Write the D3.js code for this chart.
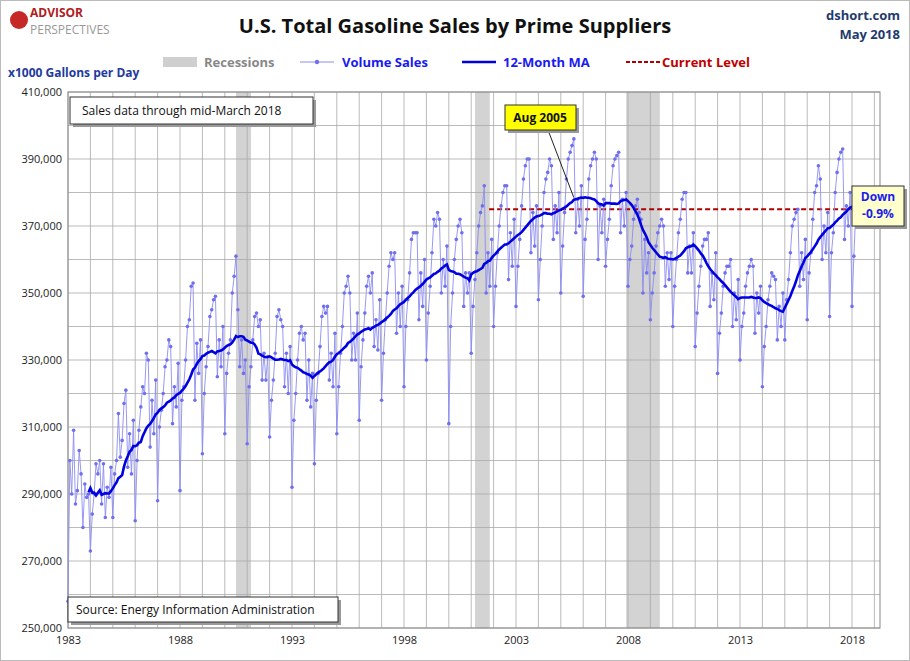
<!DOCTYPE html>
<html><head><meta charset="utf-8">
<script src="https://cdn.jsdelivr.net/npm/d3@7"></script>
<style>body{margin:0;background:#fff;font-family:"Open Sans",Arial,sans-serif}</style>
</head><body><svg id="c" width="910" height="661"></svg>
<script>
const startYear = 1983;
// monthly volume sales, thousand gallons per day (x1000), Jan 1983 .. Mar 2018
const volumeSales = [
258,300,290,309,287,291,303,296,280,293,289,290,
273,284,290,299,296,300,287,299,283,292,289,298,
283,296,300,314,301,306,317,321,298,308,296,312,
282,300,309,316,322,320,332,330,304,318,308,324,
288,310,315,320,328,330,336,334,311,322,316,329,
291,318,322,330,340,342,352,353,318,335,326,336,
302,320,328,334,343,345,348,349,325,336,328,340,
308,326,332,336,350,355,361,345,328,336,326,330,
305,322,328,336,343,344,340,342,324,332,324,331,
307,318,324,332,343,345,342,340,322,332,320,334,
292,312,320,330,338,340,336,338,318,330,316,326,
299,318,326,334,343,346,344,346,324,332,322,338,
308,322,332,340,350,352,355,350,330,338,330,344,
312,328,336,344,352,355,350,356,334,342,333,348,
318,332,342,350,358,362,360,362,338,350,340,352,
322,340,348,356,366,368,368,368,342,356,346,360,
330,344,352,362,372,370,374,372,350,360,352,364,
311,340,350,360,366,370,372,368,346,356,350,356,
332,346,354,362,370,374,376,382,350,362,352,366,
340,352,362,370,376,380,382,382,354,368,358,372,
346,358,366,376,384,388,390,390,362,374,364,376,
348,360,370,380,384,386,390,388,366,376,368,380,
350,364,374,384,390,392,394,396,368,378,370,382,
349,366,372,384,388,390,392,390,360,376,368,378,
358,366,372,382,388,390,391,392,368,378,370,380,
352,360,364,372,376,378,374,372,350,366,356,362,
342,350,356,364,368,370,372,370,352,362,354,362,
340,352,360,368,372,378,380,380,356,364,356,368,
334,344,352,358,364,366,366,368,346,356,348,362,
326,338,344,352,356,358,358,360,340,350,342,354,
330,340,344,352,356,358,360,358,338,350,344,352,
322,334,340,348,352,356,355,354,336,346,340,350,
336,348,354,362,370,372,374,375,352,362,354,366,
342,356,362,372,380,382,388,384,360,370,362,374,
343,362,368,380,386,390,392,393,366,376,370,380,
346,361,374];
const recessions = [[1990.5,1991.17],[2001.17,2001.83],[2007.92,2009.42]];
const yTicks = [250,270,290,310,330,350,370,390,410];
const xTicks = [1983,1988,1993,1998,2003,2008,2013,2018];
const currentLevel = 375;
const currentStart = 2001.8;

const svg = d3.select("#c");
const L=68,R=880,T=92,B=628;
const x = d3.scaleLinear().domain([1983,2019.25]).range([L,R]);
const y = d3.scaleLinear().domain([250,410]).range([B,T]);
const data = volumeSales.map((v,i)=>({t:startYear+i/12,v}));
const ma = [];
for(let i=11;i<data.length;i++){ma.push({t:data[i].t,v:d3.mean(volumeSales.slice(i-11,i+1))});}

svg.append("rect").attr("x",0.5).attr("y",0.5).attr("width",909).attr("height",660).attr("fill","#fff").attr("stroke","#bbb");
svg.append("rect").attr("x",L).attr("y",T).attr("width",R-L).attr("height",B-T).attr("fill","#fff");
svg.selectAll(".rec").data(recessions).join("rect").attr("x",d=>x(d[0])).attr("width",d=>x(d[1])-x(d[0]))
 .attr("y",T).attr("height",B-T).attr("fill","#d3d3d3");
for(let yr=1983;yr<=2019;yr++) svg.append("line").attr("x1",x(yr)).attr("x2",x(yr)).attr("y1",T).attr("y2",B).attr("stroke","#aaa").attr("stroke-width",0.8);
d3.range(250,411,10).forEach(v=>svg.append("line").attr("x1",L).attr("x2",R).attr("y1",y(v)).attr("y2",y(v)).attr("stroke","#aaa").attr("stroke-width",0.8));
svg.append("rect").attr("x",L).attr("y",T).attr("width",R-L).attr("height",B-T).attr("fill","none").attr("stroke","#888");

const yAx = svg.append("g").attr("transform",`translate(${L},0)`).call(d3.axisLeft(y).tickValues(yTicks).tickFormat(d=>d3.format(",")(d*1000)).tickSize(0).tickPadding(6));
const xAx = svg.append("g").attr("transform",`translate(0,${B})`).call(d3.axisBottom(x).tickValues(xTicks).tickFormat(d3.format("d")).tickSize(0).tickPadding(8));
[yAx,xAx].forEach(a=>{a.select(".domain").remove();a.selectAll("text").attr("font-size",11).attr("fill","#222").attr("font-family","Open Sans, Arial");});

svg.append("line").attr("x1",x(currentStart)).attr("x2",x(2018.2)).attr("y1",y(currentLevel)).attr("y2",y(currentLevel))
 .attr("stroke","#b00000").attr("stroke-width",1.8).attr("stroke-dasharray","5,3");

const line = d3.line().x(d=>x(d.t)).y(d=>y(d.v));
svg.append("path").datum(data).attr("d",line).attr("fill","none").attr("stroke","#8c8cf2").attr("stroke-width",0.9);
svg.selectAll(".pt").data(data).join("circle").attr("cx",d=>x(d.t)).attr("cy",d=>y(d.v)).attr("r",1.8).attr("fill","#7070ee");
svg.append("path").datum(ma).attr("d",line).attr("fill","none").attr("stroke","#0000e0").attr("stroke-width",2.6);

svg.append("text").attr("x",455).attr("y",33).attr("text-anchor","middle").attr("font-size",20).attr("font-weight","bold").attr("fill","#111").text("U.S. Total Gasoline Sales by Prime Suppliers");
svg.append("text").attr("x",900).attr("y",20).attr("text-anchor","end").attr("font-size",13).attr("font-weight","bold").attr("fill","#1f3a6e").text("dshort.com");
svg.append("text").attr("x",900).attr("y",39).attr("text-anchor","end").attr("font-size",13).attr("font-weight","bold").attr("fill","#1f3a6e").text("May 2018");
svg.append("text").attr("x",30).attr("y",17).attr("font-size",12).attr("font-weight","bold").attr("fill","#b02020").text("ADVISOR");
svg.append("text").attr("x",30).attr("y",34).attr("font-size",12).attr("fill","#999").text("PERSPECTIVES");
svg.append("circle").attr("cx",19).attr("cy",20).attr("r",9).attr("fill","#c62828");
svg.append("text").attr("x",8).attr("y",77).attr("font-size",12).attr("font-weight","bold").attr("fill","#1f3a9e").text("x1000  Gallons per Day");

const lg = svg.append("g").attr("font-size",13).attr("font-weight","bold");
lg.append("rect").attr("x",163).attr("y",57).attr("width",34).attr("height",10).attr("fill","#cfcfcf");
lg.append("text").attr("x",204).attr("y",67).attr("fill","#888").text("Recessions");
lg.append("line").attr("x1",300).attr("x2",334).attr("y1",62).attr("y2",62).attr("stroke","#8c8cf2");
lg.append("circle").attr("cx",317).attr("cy",62).attr("r",2.2).attr("fill","#7070ee");
lg.append("text").attr("x",342).attr("y",67).attr("fill","#1a1aee").text("Volume Sales");
lg.append("line").attr("x1",462).attr("x2",496).attr("y1",62).attr("y2",62).attr("stroke","#0000e0").attr("stroke-width",2.6);
lg.append("text").attr("x",503).attr("y",67).attr("fill","#1a1aee").text("12-Month MA");
lg.append("line").attr("x1",626).attr("x2",660).attr("y1",62).attr("y2",62).attr("stroke","#b00000").attr("stroke-width",1.8).attr("stroke-dasharray","4,2");
lg.append("text").attr("x",662).attr("y",67).attr("fill","#c00000").text("Current Level");

function box(x0,y0,w,h,fill){svg.append("rect").attr("x",x0+3).attr("y",y0+3).attr("width",w).attr("height",h).attr("fill","#999");
 svg.append("rect").attr("x",x0).attr("y",y0).attr("width",w).attr("height",h).attr("fill",fill).attr("stroke","#333");}
box(70,97,243,27,"#fff");
svg.append("text").attr("x",82).attr("y",115).attr("font-size",12).attr("fill","#111").text("Sales data through mid-March 2018");
svg.append("line").attr("x1",548).attr("x2",x(2005.58)).attr("y1",130).attr("y2",y(378.5)).attr("stroke","#222");
box(505,105,71,25,"#ffff00");
svg.append("text").attr("x",540).attr("y",122).attr("text-anchor","middle").attr("font-size",12).attr("font-weight","bold").attr("fill","#111").text("Aug 2005");
box(852,186,52,40,"#ffffcc");
svg.append("text").attr("x",878).attr("y",201).attr("text-anchor","middle").attr("font-size",12).attr("font-weight","bold").attr("fill","#1a1aee").text("Down");
svg.append("text").attr("x",878).attr("y",218).attr("text-anchor","middle").attr("font-size",12).attr("font-weight","bold").attr("fill","#1a1aee").text("-0.9%");
box(68,597,270,25,"#fff");
svg.append("text").attr("x",76).attr("y",614).attr("font-size",12).attr("fill","#111").text("Source: Energy Information Administration");
</script></body></html>
